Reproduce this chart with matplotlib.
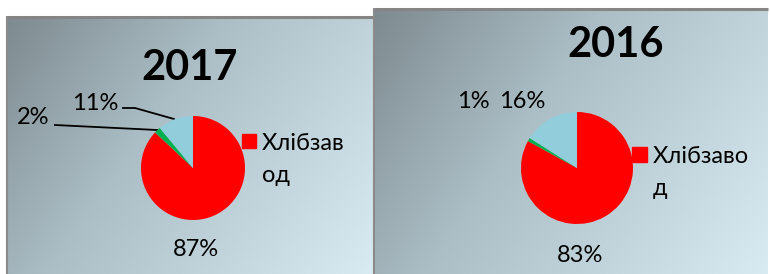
import numpy as np
import matplotlib
matplotlib.use('Agg')
import matplotlib.pyplot as plt
from matplotlib.colors import LinearSegmentedColormap

# ---- data ----
years = ['2017', '2016']
shares_2017 = [87, 2, 11]
shares_2016 = [83, 1, 16]
pct_labels_2017 = ['87%', '2%', '11%']
pct_labels_2016 = ['83%', '1%', '16%']
legend_labels = ['Хлібзав\nод', 'Хлібзаво\nд']
slice_colors = ['#FF0000', '#00B050', '#92CDDC']

W, H = 770, 274
FONT = ['Lato', 'Open Sans', 'DejaVu Sans']
plt.rcParams['font.family'] = FONT

fig = plt.figure(figsize=(W / 100, H / 100), dpi=100)
fig.patch.set_facecolor('white')
bg = fig.add_axes([0, 0, 1, 1])
bg.set_xlim(0, W)
bg.set_ylim(H, 0)
bg.axis('off')

cmap = LinearSegmentedColormap.from_list(
    'panel', [(0.0, '#7d8a8f'), (0.4, '#abbec5'), (1.0, '#d9ebf2')])


def panel(x0, y0, x1, y1):
    w, h = x1 - x0, y1 - y0
    X, Y = np.meshgrid(np.linspace(0, 1, 300), np.linspace(0, 1, 200))
    t = (X * w * w + Y * h * h) / (w * w + h * h)
    bg.imshow(t, cmap=cmap, extent=(x0, x1, y1, y0), aspect='auto',
              interpolation='bilinear', zorder=0)
    bg.plot([x0, x1], [y0 + 0.5, y0 + 0.5], color='#858585', lw=2.2, zorder=1,
            solid_capstyle='butt')
    bg.plot([x0 + 0.5, x0 + 0.5], [y0, y1], color='#8a8a8a', lw=1.5, zorder=1,
            solid_capstyle='butt')


panel(6, 16, 373, 274)
panel(373, 8, 768, 274)


def px_axes(cx, cy, r):
    return fig.add_axes([(cx - r) / W, (H - cy - r) / H, 2 * r / W, 2 * r / H])


def draw_pie(cx, cy, r, values):
    ax = px_axes(cx, cy, r)
    ax.pie(values, colors=slice_colors, startangle=90, counterclock=False,
           radius=1.0, wedgeprops=dict(linewidth=0))
    ax.set_xlim(-1, 1)
    ax.set_ylim(-1, 1)
    ax.set_aspect('auto')
    ax.axis('off')
    return ax


draw_pie(193, 168, 52, shares_2017)
draw_pie(577, 168, 56, shares_2016)

# titles
bg.text(190, 68, years[0], fontsize=30, fontweight='bold', ha='center', va='center')
bg.text(616, 45, years[1], fontsize=30, fontweight='bold', ha='center', va='center')

# percentage labels
fs = 17
bg.text(196, 250, pct_labels_2017[0], fontsize=fs, ha='center', va='center')
bg.text(33, 118, pct_labels_2017[1], fontsize=fs, ha='center', va='center')
bg.text(95, 103, pct_labels_2017[2], fontsize=fs, ha='center', va='center')
bg.text(580, 255, pct_labels_2016[0], fontsize=fs, ha='center', va='center')
bg.text(473, 101, pct_labels_2016[1], fontsize=fs, ha='center', va='center')
bg.text(522, 101, pct_labels_2016[2], fontsize=fs, ha='center', va='center')

# leader lines (2017)
bg.plot([123, 135, 174], [108, 108, 119], color='black', lw=1.3, zorder=5)
bg.plot([55, 157], [125, 130], color='black', lw=1.3, zorder=5)

# legends
bg.add_patch(plt.Rectangle((242, 134), 14, 14, color='#FF0000', zorder=5))
l1a, l1b = legend_labels[0].split('\n')
bg.text(262, 150, l1a, fontsize=fs, ha='left', va='baseline')
bg.text(262, 182, l1b, fontsize=fs, ha='left', va='baseline')
bg.add_patch(plt.Rectangle((632, 147), 15, 15, color='#FF0000', zorder=5))
l2a, l2b = legend_labels[1].split('\n')
bg.text(653, 163, l2a, fontsize=fs, ha='left', va='baseline')
bg.text(653, 195, l2b, fontsize=fs, ha='left', va='baseline')

fig.savefig('out.png', dpi=100)
